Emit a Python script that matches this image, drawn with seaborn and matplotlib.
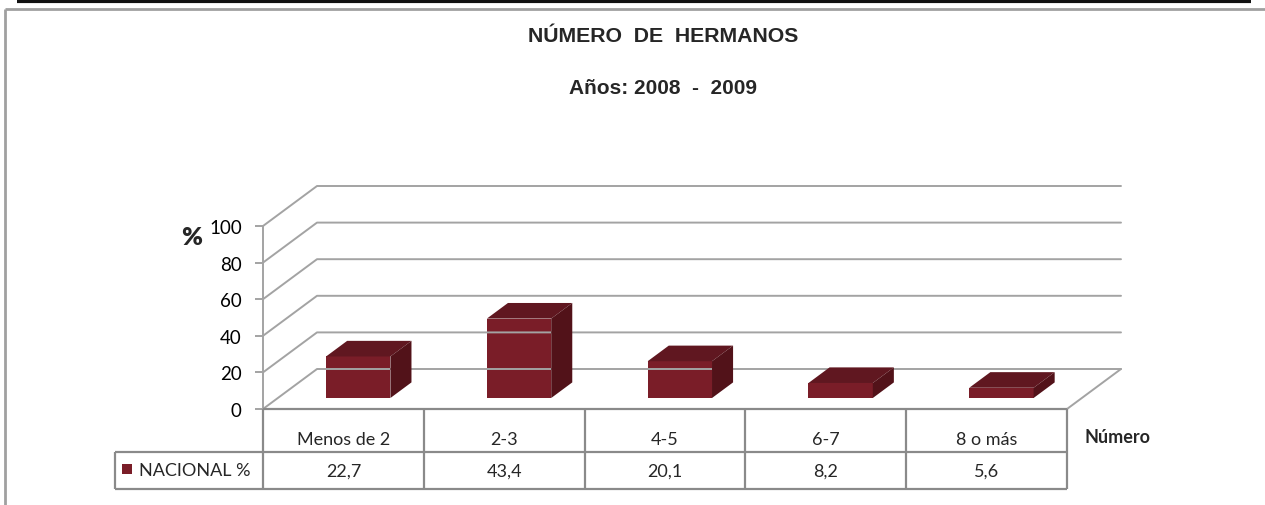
import matplotlib
matplotlib.use("Agg")
import matplotlib.pyplot as plt
import matplotlib.transforms as mtransforms
from matplotlib.lines import Line2D
from matplotlib.patches import Polygon, Rectangle
import seaborn as sns

categories = ["Menos de 2", "2-3", "4-5", "6-7", "8 o más"]
values = [22.7, 43.4, 20.1, 8.2, 5.6]
value_labels = ["22,7", "43,4", "20,1", "8,2", "5,6"]
yticks = [0, 20, 40, 60, 80, 100]
series_name = "NACIONAL %"
title = "NÚMERO  DE  HERMANOS"
subtitle = "Años: 2008  -  2009"

W, H = 1265, 506
FRONT = "#7A1D28"
TOP = "#601720"
SIDE = "#521219"
GRID = "#A3A3A3"
TABLE = "#8A8A8A"
DX, DY = 54, 40          # depth offset in pixels
D0, D1 = 0.275, 0.665    # bar depth range

sns.set_theme(style="white")
plt.rcParams["font.family"] = ["Lato", "DejaVu Sans"]

fig = plt.figure(figsize=(W / 100, H / 100), dpi=100)
fig.patch.set_facecolor("white")
ax = fig.add_axes([263 / W, (H - 410) / H, (1067 - 263) / W, (410 - 227) / H])
ax.patch.set_alpha(0)

sns.barplot(x=categories, y=values, width=0.4, color=FRONT, saturation=1,
            ax=ax, zorder=3)
ax.set_xlim(-0.5, 4.5)
ax.set_ylim(0, 100)

ident = mtransforms.IdentityTransform()


def P(x, y, d):
    px, py = ax.transData.transform((x, y))
    return (px + DX * d, py + DY * d)


def fig_line(x0, y0, x1, y1, color, lw, zorder=1):
    fig.add_artist(Line2D([x0, x1], [H - y0, H - y1], color=color, lw=lw,
                          transform=ident, zorder=zorder, solid_capstyle="butt"))


# walls / gridlines
for v in yticks:
    a, b = P(-0.5, v, 0), P(-0.5, v, 1)
    c = P(4.5, v, 1)
    fig.add_artist(Line2D([a[0], b[0], c[0]], [a[1], b[1], c[1]], color=GRID,
                          lw=1.4, transform=ident, zorder=1))
# floor right edge
a, b = P(4.5, 0, 0), P(4.5, 0, 1)
fig.add_artist(Line2D([a[0], b[0]], [a[1], b[1]], color=GRID, lw=1.4,
                      transform=ident, zorder=1))

# bars: shift front faces into depth, add top and side faces
shift = mtransforms.Affine2D().translate(DX * D0, DY * D0)
for patch in list(ax.patches):
    patch.set_transform(ax.transData + shift)
    patch.set_clip_on(False)
    patch.set_edgecolor("none")
    x0 = patch.get_x()
    x1 = x0 + patch.get_width()
    h = patch.get_height()
    top = [P(x0, h, D0), P(x1, h, D0), P(x1, h, D1), P(x0, h, D1)]
    side = [P(x1, 0, D0), P(x1, 0, D1), P(x1, h, D1), P(x1, h, D0)]
    fig.add_artist(Polygon(top, closed=True, facecolor=TOP, edgecolor="none",
                           transform=ident, zorder=4))
    fig.add_artist(Polygon(side, closed=True, facecolor=SIDE, edgecolor="none",
                           transform=ident, zorder=4))

# axes styling
for s in ["top", "right", "bottom"]:
    ax.spines[s].set_visible(False)
ax.spines["left"].set_color(GRID)
ax.spines["left"].set_linewidth(1.4)
ax.set_yticks(yticks)
ax.set_yticklabels([str(t) for t in yticks], fontsize=13.5, color="black")
ax.tick_params(axis="y", length=5.8, width=1.4, color=GRID, pad=9.5, left=True)
ax.set_xticks([])
ax.set_xlabel("")
ax.set_ylabel("")

# data table
xb = [ax.transData.transform((i - 0.5, 0))[0] for i in range(len(categories) + 1)]
fig_line(xb[0], 410, xb[-1], 410, TABLE, 1.6)
fig_line(115, 453, xb[-1], 453, TABLE, 1.6)
fig_line(115, 490, xb[-1], 490, TABLE, 1.6)
fig_line(115, 453, 115, 490, TABLE, 1.6)
for x in xb:
    fig_line(x, 410, x, 490, TABLE, 1.6)

bt = mtransforms.blended_transform_factory(ax.transData, ident)
for i, (c, v) in enumerate(zip(categories, value_labels)):
    ax.text(i, H - 440, c, transform=bt, ha="center", va="center",
            fontsize=13, clip_on=False)
    ax.text(i, H - 472, v, transform=bt, ha="center", va="center",
            fontsize=13, clip_on=False)

fig.add_artist(Rectangle((122, H - 475), 10, 10, facecolor=FRONT,
                         edgecolor="none", transform=ident))
fig.text(139 / W, 1 - 471 / H, series_name, ha="left", va="center", fontsize=13)
fig.text(1085 / W, 1 - 438 / H, "Número", ha="left", va="center",
         fontsize=13, fontweight="bold")
fig.text(192 / W, 1 - 238 / H, "%", ha="center", va="center", fontsize=18,
         fontweight="heavy")

# titles
fig.text(663 / W, 1 - 37 / H, title, ha="center", va="center", fontsize=15.3,
         fontweight="bold", family=["Liberation Sans", "DejaVu Sans"])
fig.text(663 / W, 1 - 88 / H, subtitle, ha="center", va="center",
         fontsize=15, fontweight="bold", family=["Liberation Sans", "DejaVu Sans"])

# outer frame
fig_line(17, 1.5, 1251, 1.5, "#111111", 3)
fig_line(5, 10, W, 10, "#A0A0A0", 2)
fig_line(5, 10, 5, H, "#A0A0A0", 2)

fig.savefig("out.png", dpi=100, facecolor="white")
